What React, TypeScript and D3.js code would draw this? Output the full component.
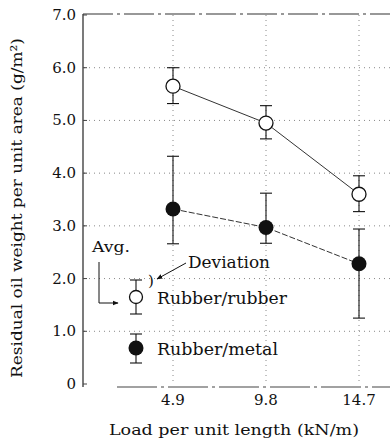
import React from "react";
import * as d3 from "d3";

const loads = [4.9, 9.8, 14.7];
const rubberMean = [5.65, 4.95, 3.6];
const rubberLow = [5.32, 4.65, 3.27];
const rubberHigh = [6.0, 5.28, 3.95];
const metalMean = [3.32, 2.97, 2.28];
const metalLow = [2.66, 2.67, 1.25];
const metalHigh = [4.32, 3.62, 2.94];
const yTicks = [0, 1, 2, 3, 4, 5, 6, 7];
const yTickLabels = ["0", "1.0", "2.0", "3.0", "4.0", "5.0", "6.0", "7.0"];
const xTickLabels = ["4.9", "9.8", "14.7"];

const W = 390, H = 444;
const x = d3.scaleLinear().domain([4.9, 14.7]).range([173, 359]);
const y = d3.scaleLinear().domain([0, 7]).range([384, 15]);
const font = "DejaVu Serif, Liberation Serif, serif";

export default function App() {
  const line = d3.line<number>().x((_, i) => x(loads[i])).y((v) => y(v));
  const ink = "#111";
  const errBar = (xv: number, lo: number, hi: number, key: string) => (
    <g key={key} stroke={ink} strokeWidth={1.1}>
      <line x1={xv} x2={xv} y1={lo} y2={hi} />
      <line x1={xv - 6} x2={xv + 6} y1={lo} y2={lo} />
      <line x1={xv - 6} x2={xv + 6} y1={hi} y2={hi} />
    </g>
  );
  const lx = 136;
  const lyR = 297, lyM = 348;
  const T = (p: any) => <text fontFamily={font} fill={ink} {...p} />;
  return (
    <svg width={W} height={H} style={{ position: "absolute", left: 0, top: 0, background: "#fff" }}>
      <defs>
        <marker id="ah" viewBox="0 0 10 10" refX="9" refY="5" markerWidth="6" markerHeight="6" orient="auto">
          <path d="M0,1 L10,5 L0,9 z" fill={ink} />
        </marker>
      </defs>
      <g stroke="#888" strokeWidth={1} strokeDasharray="1,4">
        {yTicks.slice(1, 7).map((t) => (
          <line key={"h" + t} x1={84} x2={W} y1={y(t)} y2={y(t)} />
        ))}
        {loads.map((l) => (
          <line key={"v" + l} x1={x(l)} x2={x(l)} y1={y(7)} y2={y(0)} />
        ))}
      </g>
      <line x1={83} x2={83} y1={y(7) - 1} y2={y(0) + 3} stroke="#333" strokeWidth={1.3} />
      <line x1={83} x2={W} y1={y(7) - 1} y2={y(7) - 1} stroke="#333" strokeWidth={1.2} strokeDasharray="30,4,3,4" />
      <line x1={117} x2={W} y1={y(0) + 3} y2={y(0) + 3} stroke="#444" strokeWidth={1.2} strokeDasharray="40,4,3,4" />
      {yTicks.map((t, i) => (
        <g key={"yt" + t}>
          <line x1={83} x2={87} y1={y(t)} y2={y(t)} stroke="#444" />
          <T x={76} y={y(t) + 5} textAnchor="end" fontSize={15}>{yTickLabels[i]}</T>
        </g>
      ))}
      {loads.map((l, i) => (
        <T key={"xt" + l} x={x(l)} y={405} textAnchor="middle" fontSize={15}>{xTickLabels[i]}</T>
      ))}
      <T x={234} y={435} textAnchor="middle" fontSize={15} textLength={250} lengthAdjust="spacingAndGlyphs">
        Load per unit length (kN/m)
      </T>
      <T transform="translate(22,208) rotate(-90)" textAnchor="middle" fontSize={15} textLength={340} lengthAdjust="spacingAndGlyphs">
        Residual oil weight per unit area (g/m²)
      </T>
      <path d={line(rubberMean) || ""} fill="none" stroke="#333" strokeWidth={1} />
      <path d={line(metalMean) || ""} fill="none" stroke="#333" strokeWidth={1} strokeDasharray="6,2" />
      {loads.map((l, i) => errBar(x(l), y(rubberLow[i]), y(rubberHigh[i]), "re" + i))}
      {loads.map((l, i) => errBar(x(l), y(metalLow[i]), y(metalHigh[i]), "me" + i))}
      {loads.map((l, i) => (
        <circle key={"rc" + i} cx={x(l)} cy={y(rubberMean[i])} r={7} fill="#fff" stroke={ink} strokeWidth={1.3} />
      ))}
      {loads.map((l, i) => (
        <circle key={"mc" + i} cx={x(l)} cy={y(metalMean[i])} r={7.5} fill={ink} />
      ))}
      {errBar(lx, lyR + 17, lyR - 17, "le1")}
      <circle cx={lx} cy={lyR} r={6.5} fill="#fff" stroke={ink} strokeWidth={1.3} />
      {errBar(lx, lyM + 15, lyM - 14, "le2")}
      <circle cx={lx} cy={lyM} r={7.5} fill={ink} />
      <T x={157} y={304} fontSize={16} textLength={130} lengthAdjust="spacingAndGlyphs">Rubber/rubber</T>
      <T x={157} y={355} fontSize={16} textLength={121} lengthAdjust="spacingAndGlyphs">Rubber/metal</T>
      <T x={92} y={252} fontSize={15} textLength={38} lengthAdjust="spacingAndGlyphs">Avg.</T>
      <T x={188} y={268} fontSize={16} textLength={82} lengthAdjust="spacingAndGlyphs">Deviation</T>
      <T x={148} y={286} fontSize={15}>)</T>
      <path d="M99,262 L99,303 L118,303" fill="none" stroke={ink} strokeWidth={1} markerEnd="url(#ah)" />
      <line x1={186} x2={157} y1={263} y2={279} stroke={ink} strokeWidth={1} markerEnd="url(#ah)" />
    </svg>
  );
}
